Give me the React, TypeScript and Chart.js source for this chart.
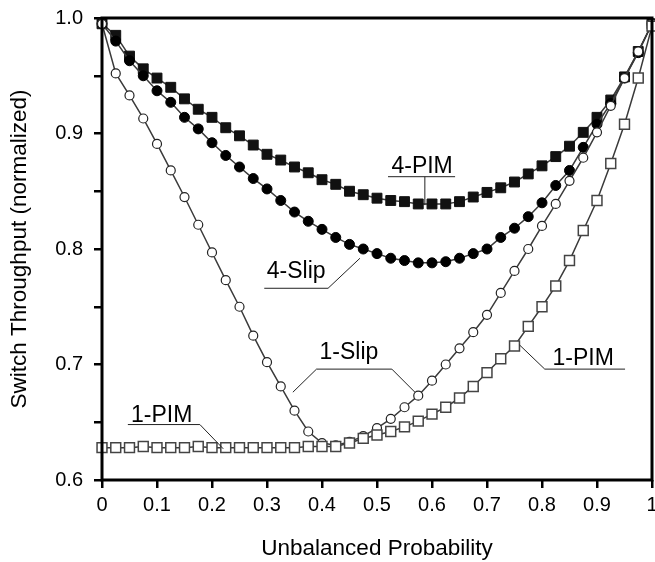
import React, { useEffect, useRef } from 'react';
import { Chart, registerables } from 'chart.js';

Chart.register(...registerables);

// ---- data ----
const probabilities = [
  0, 0.025, 0.05, 0.075, 0.1, 0.125, 0.15, 0.175, 0.2, 0.225, 0.25, 0.275, 0.3, 0.325,
  0.35, 0.375, 0.4, 0.425, 0.45, 0.475, 0.5, 0.525, 0.55, 0.575, 0.6, 0.625, 0.65, 0.675,
  0.7, 0.725, 0.75, 0.775, 0.8, 0.825, 0.85, 0.875, 0.9, 0.925, 0.95, 0.975, 1,
];

const pim4 = [
  0.995, 0.985, 0.967, 0.956, 0.948, 0.94, 0.93, 0.921, 0.914, 0.905, 0.898, 0.89, 0.882,
  0.877, 0.871, 0.866, 0.86, 0.856, 0.85, 0.847, 0.844, 0.842, 0.841, 0.839, 0.839, 0.839,
  0.841, 0.845, 0.849, 0.853, 0.858, 0.865, 0.872, 0.88, 0.889, 0.901, 0.914, 0.929, 0.949,
  0.971, 0.995,
];

const slip4 = [
  0.995, 0.98, 0.963, 0.95, 0.937, 0.927, 0.914, 0.904, 0.892, 0.881, 0.871, 0.861, 0.852,
  0.842, 0.832, 0.824, 0.817, 0.81, 0.804, 0.8, 0.796, 0.792, 0.79, 0.788, 0.788, 0.789,
  0.792, 0.796, 0.8, 0.81, 0.818, 0.828, 0.84, 0.855, 0.868, 0.888, 0.908, 0.926, 0.948,
  0.97, 0.995,
];

const slip1 = [
  0.995, 0.952, 0.933, 0.913, 0.891, 0.868, 0.845, 0.821, 0.797, 0.773, 0.75, 0.725, 0.702,
  0.681, 0.66, 0.642, 0.632, 0.63, 0.633, 0.638, 0.645, 0.653, 0.663, 0.673, 0.686, 0.7,
  0.714, 0.728, 0.743, 0.762, 0.781, 0.8, 0.82, 0.839, 0.859, 0.879, 0.901, 0.924, 0.948,
  0.971, 0.995,
];

const pim1 = [
  0.628, 0.628, 0.628, 0.629, 0.628, 0.628, 0.628, 0.629, 0.628, 0.628, 0.628, 0.628, 0.628,
  0.628, 0.628, 0.629, 0.629, 0.629, 0.632, 0.636, 0.639, 0.642, 0.646, 0.651, 0.657, 0.663,
  0.671, 0.681, 0.693, 0.705, 0.716, 0.733, 0.75, 0.768, 0.79, 0.816, 0.842, 0.874, 0.908,
  0.948, 0.993,
];

const xTickLabels = ['0', '0.1', '0.2', '0.3', '0.4', '0.5', '0.6', '0.7', '0.8', '0.9', '1'];
const yTickLabels = ['0.6', '0.7', '0.8', '0.9', '1.0'];
const xTitle = 'Unbalanced Probability';
const yTitle = 'Switch Throughput (normalized)';

// callouts, in data units
const callouts = [
  { text: '4-PIM', at: [0.582, 0.8655], lines: [[[0.52, 0.8626], [0.642, 0.8626]], [[0.587, 0.8626], [0.587, 0.838]]] },
  { text: '4-Slip', at: [0.353, 0.775], lines: [[[0.295, 0.766], [0.411, 0.766], [0.469, 0.792]]] },
  { text: '1-Slip', at: [0.449, 0.705], lines: [[[0.347, 0.676], [0.39, 0.696], [0.527, 0.696], [0.569, 0.676]]] },
  { text: '1-PIM', at: [0.1085, 0.65], lines: [[[0.047, 0.648], [0.178, 0.648], [0.2205, 0.627]]] },
  { text: '1-PIM', at: [0.875, 0.6996], lines: [[[0.759, 0.717], [0.805, 0.696], [0.951, 0.696]]] },
];

const FONT = 'Liberation Sans, Arial, Helvetica, sans-serif';

const toPoints = (ys: number[]) => probabilities.map((x, i) => ({ x, y: ys[i] }));

const framePlugin = {
  id: 'frame',
  afterDraw(chart: any) {
    const { ctx, chartArea: a } = chart;
    ctx.save();
    ctx.strokeStyle = '#000';
    ctx.lineWidth = 3;
    ctx.strokeRect(a.left, a.top, a.right - a.left, a.bottom - a.top);
    ctx.restore();
  },
};

const calloutPlugin = {
  id: 'callouts',
  afterDatasetsDraw(chart: any) {
    const { ctx } = chart;
    const xs = chart.scales.x;
    const ys = chart.scales.y;
    ctx.save();
    ctx.font = `23px ${FONT}`;
    ctx.fillStyle = '#000';
    ctx.textAlign = 'center';
    ctx.textBaseline = 'alphabetic';
    ctx.strokeStyle = '#222';
    ctx.lineWidth = 1;
    callouts.forEach((c) => {
      ctx.fillText(c.text, xs.getPixelForValue(c.at[0]), ys.getPixelForValue(c.at[1]));
      c.lines.forEach((pl) => {
        ctx.beginPath();
        pl.forEach((p, i) => {
          const px = xs.getPixelForValue(p[0]);
          const py = ys.getPixelForValue(p[1]);
          if (i === 0) ctx.moveTo(px, py);
          else ctx.lineTo(px, py);
        });
        ctx.stroke();
      });
    });
    ctx.restore();
  },
};

export default function App() {
  const ref = useRef<HTMLCanvasElement | null>(null);

  useEffect(() => {
    document.body.style.margin = '0';
    document.body.style.overflow = 'hidden';
    if (!ref.current) return;
    const lineColor = '#3a3a3a';
    const chart = new Chart(ref.current, {
      type: 'line',
      data: {
        datasets: [
          { label: '1-PIM', data: toPoints(pim1), borderColor: lineColor, borderWidth: 1.5, pointStyle: 'rect', pointRadius: 7, pointBackgroundColor: '#fff', pointBorderColor: '#444', pointBorderWidth: 1.5, clip: false },
          { label: '1-Slip', data: toPoints(slip1), borderColor: lineColor, borderWidth: 1.5, pointStyle: 'circle', pointRadius: 4.5, pointBackgroundColor: '#fff', pointBorderColor: '#222', pointBorderWidth: 1.2, clip: false },
          { label: '4-Slip', data: toPoints(slip4), borderColor: lineColor, borderWidth: 1.5, pointStyle: 'circle', pointRadius: 5, pointBackgroundColor: '#000', pointBorderColor: '#000', pointBorderWidth: 1, clip: false },
          { label: '4-PIM', data: toPoints(pim4), borderColor: lineColor, borderWidth: 1.5, pointStyle: 'rect', pointRadius: 7, pointBackgroundColor: '#111', pointBorderColor: '#111', pointBorderWidth: 1, clip: false },
        ],
      },
      options: {
        animation: false,
        responsive: false,
        devicePixelRatio: 1,
        layout: { autoPadding: false, padding: { top: 18, right: 3, left: 0, bottom: 0 } },
        plugins: { legend: { display: false }, tooltip: { enabled: false } },
        elements: { line: { tension: 0 } },
        scales: {
          x: {
            type: 'linear', min: 0, max: 1,
            afterFit: (s: any) => { s.height = 82; s.paddingLeft = 0; s.paddingRight = 0; },
            border: { display: false },
            grid: { display: true, drawOnChartArea: false, drawTicks: true, tickLength: 8, color: '#000', lineWidth: 2.5 },
            ticks: { stepSize: 0.1, autoSkip: false, maxRotation: 0, padding: 5, color: '#000', font: { family: FONT, size: 20 }, callback: (_v: any, i: number) => xTickLabels[i] ?? '' },
            title: { display: true, text: xTitle, color: '#000', font: { family: FONT, size: 22.5 }, padding: { top: 0, bottom: 0 } },
          },
          y: {
            type: 'linear', min: 0.6, max: 1.0,
            afterFit: (s: any) => { s.width = 102; s.paddingTop = 0; s.paddingBottom = 0; },
            border: { display: false },
            grid: { display: true, drawOnChartArea: false, drawTicks: true, tickLength: 8, color: '#000', lineWidth: 2.5 },
            ticks: { stepSize: 0.05, autoSkip: false, padding: 11, color: '#000', font: { family: FONT, size: 20 }, callback: (_v: any, i: number) => (i % 2 === 0 ? yTickLabels[i / 2] ?? '' : '') },
            title: { display: true, text: yTitle, color: '#000', font: { family: FONT, size: 22.5 }, padding: { top: 6, bottom: 0 } },
          },
        },
      },
      plugins: [framePlugin, calloutPlugin],
    });
    return () => chart.destroy();
  }, []);

  return (
    <div style={{ width: 655, height: 562, overflow: 'hidden' }}>
      <canvas ref={ref} width={655} height={562} style={{ display: 'block' }} />
    </div>
  );
}
